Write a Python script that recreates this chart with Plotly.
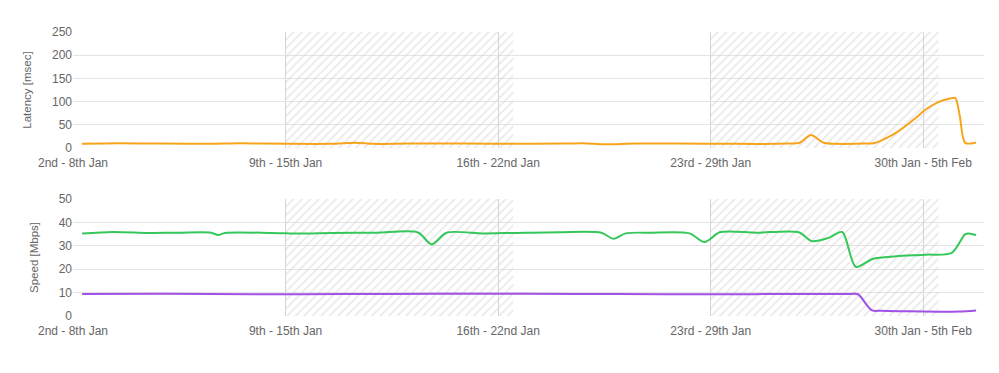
import plotly.graph_objects as go

# ---- data (x in days since 2 Jan) ----
week_ticks = [0, 7, 14, 21, 28]
week_labels = ["2nd - 8th Jan", "9th - 15th Jan", "16th - 22nd Jan", "23rd - 29th Jan", "30th Jan - 5th Feb"]

hatch_periods = [(7.0, 14.5), (21.0, 28.5)]

lat_days = [0.3, 1.5, 3.0, 4.5, 5.5, 7.0, 8.5, 9.3, 9.9, 11.0, 13.0, 14.5, 16.0, 16.8, 17.5,
            18.5, 20.0, 21.5, 23.5, 23.95, 24.3, 24.7, 25.1, 26.0, 26.4, 26.8, 27.2, 27.7,
            28.1, 28.5, 28.85, 29.05, 29.2, 29.38, 29.74]
latency = [9, 10, 9.5, 9, 10, 9, 9, 11.5, 9, 9.5, 9.5, 9, 9.5, 10.5, 8,
           9.5, 9.5, 9, 9.5, 12, 28, 12, 9, 9.5, 11, 22, 37, 62,
           84, 99, 106, 108, 70, 11, 12]

dl_days = [0.3, 1.3, 2.5, 3.5, 4.55, 4.78, 5.0, 6.5, 7.5, 8.5, 10.0, 11.36, 11.81, 12.3, 13.5,
           14.5, 16.0, 17.4, 17.8, 18.2, 19.0, 20.3, 20.8, 21.3, 22.5, 23.9, 24.33, 24.9,
           25.33, 25.78, 26.35, 27.1, 28.07, 28.94, 29.38, 29.5, 29.74]
download = [35.2, 35.9, 35.5, 35.6, 35.6, 34.6, 35.5, 35.5, 35.2, 35.5, 35.6, 35.7, 30.6, 35.6, 35.3,
            35.5, 35.8, 35.6, 33.0, 35.3, 35.6, 35.3, 31.6, 35.8, 35.6, 35.8, 32.0, 33.5,
            35.9, 21.0, 24.5, 25.5, 26.2, 27.0, 35.0, 35.3, 34.6]

ul_days = [0.3, 3.0, 6.0, 9.0, 12.0, 15.0, 18.0, 21.0, 24.0, 25.6, 25.85, 26.3, 26.6, 27.5, 28.5, 29.2, 29.74]
upload = [9.4, 9.5, 9.3, 9.4, 9.5, 9.5, 9.4, 9.3, 9.4, 9.4, 9.3, 2.5, 2.2, 2.0, 1.8, 1.9, 2.4]

ORANGE = "#f7a41d"
GREEN = "#35c75a"
PURPLE = "#a052e6"
GRID = "#e4e4e4"
VGRID = "#d4d4d4"
TXT = "#666666"

fig = go.Figure()

# hatched periods
for (a, b) in hatch_periods:
    for yref, ymax in (("y", 250), ("y2", 50)):
        fig.add_trace(go.Scatter(
            x=[a, b, b, a, a], y=[0, 0, ymax, ymax, 0],
            xaxis="x" if yref == "y" else "x2", yaxis=yref,
            mode="lines", line=dict(width=0), fill="toself",
            fillcolor="rgba(0,0,0,0)",
            fillpattern=dict(shape="/", fgcolor="#cfcfcf", bgcolor="rgba(0,0,0,0)",
                             size=6, solidity=0.25),
            hoverinfo="skip", showlegend=False))

fig.add_trace(go.Scatter(x=lat_days, y=latency, mode="lines", xaxis="x", yaxis="y",
                         line=dict(color=ORANGE, width=2, shape="spline", smoothing=0.8),
                         name="Latency"))
fig.add_trace(go.Scatter(x=dl_days, y=download, mode="lines", xaxis="x2", yaxis="y2",
                         line=dict(color=GREEN, width=2, shape="spline", smoothing=0.8),
                         name="Download"))
fig.add_trace(go.Scatter(x=ul_days, y=upload, mode="lines", xaxis="x2", yaxis="y2",
                         line=dict(color=PURPLE, width=2, shape="spline", smoothing=0.8),
                         name="Upload"))

font = dict(family="Liberation Sans, Arial, sans-serif", size=12, color=TXT)
title_font = dict(family=font["family"], size=11.5, color=TXT)
xcommon = dict(range=[0, 30], tickvals=week_ticks, ticktext=week_labels, showgrid=True,
               gridcolor=VGRID, gridwidth=1, zeroline=False, showline=False,
               tickfont=font, ticks="", ticklabelstandoff=6, fixedrange=True)
ycommon = dict(showgrid=True, gridcolor=GRID, gridwidth=1, zeroline=False, showline=False,
               tickfont=font, ticks="", fixedrange=True)

# page body has an 8px margin, so the figure is sized to fit the 999x373 window
fig.update_layout(
    width=991, height=365,
    margin=dict(l=65, r=15, t=24, b=57),
    paper_bgcolor="white", plot_bgcolor="white",
    showlegend=False,
    font=font,
    xaxis=dict(**xcommon, domain=[0, 1], anchor="y"),
    xaxis2=dict(**xcommon, domain=[0, 1], anchor="y2"),
    yaxis=dict(**ycommon, domain=[0.5915, 1], range=[0, 250], tickvals=[0, 50, 100, 150, 200, 250],
               title=dict(text="Latency [msec]", font=title_font, standoff=17), anchor="x"),
    yaxis2=dict(**ycommon, domain=[0, 0.412], range=[0, 50], tickvals=[0, 10, 20, 30, 40, 50],
                title=dict(text="Speed [Mbps]", font=title_font, standoff=17), anchor="x2"),
)

fig.write_html("out.html")
